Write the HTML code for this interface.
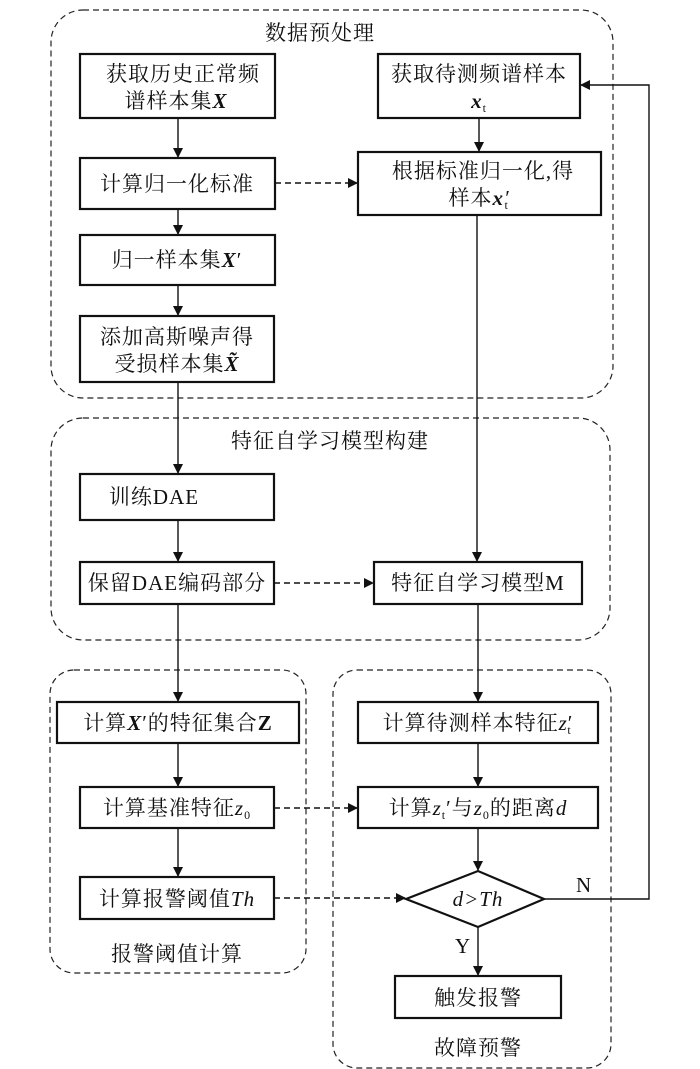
<!DOCTYPE html>
<html><head><meta charset="utf-8"><style>
html,body{margin:0;padding:0;background:#fff}
svg{display:block}
text{font-family:"Liberation Serif","Noto Serif CJK SC",serif;font-size:21px;fill:#111;letter-spacing:1px}
.b{fill:#fff;stroke:#111;stroke-width:2.2}
.g{fill:none;stroke:#222;stroke-width:1.2;stroke-dasharray:6,4}
.l{stroke:#111;stroke-width:1.4;fill:none}
.d{stroke:#111;stroke-width:1.4;fill:none;stroke-dasharray:6,4}
.i{font-style:italic;font-weight:bold}
.it{font-style:italic}
</style></head><body>
<svg width="700" height="1069" viewBox="0 0 700 1069" xmlns="http://www.w3.org/2000/svg">
<defs><marker id="a" markerWidth="10" markerHeight="10" refX="9" refY="5" orient="auto" markerUnits="userSpaceOnUse"><path d="M0,0 L10,5 L0,10 z" fill="#111"/></marker></defs>
<rect class="g" x="51" y="10" width="562" height="388" rx="32"/>
<rect class="g" x="51" y="418" width="559" height="222" rx="32"/>
<rect class="g" x="50" y="670" width="256" height="303" rx="24"/>
<rect class="g" x="333" y="670" width="278" height="398" rx="24"/>
<text x="320" y="40" text-anchor="middle">数据预处理</text>
<text x="330" y="448" text-anchor="middle">特征自学习模型构建</text>
<text x="177" y="961" text-anchor="middle">报警阈值计算</text>
<text x="478" y="1055" text-anchor="middle">故障预警</text>
<line class="l" x1="178" y1="118" x2="178" y2="157" marker-end="url(#a)"/>
<line class="l" x1="178" y1="209" x2="178" y2="234" marker-end="url(#a)"/>
<line class="l" x1="178" y1="285" x2="178" y2="315" marker-end="url(#a)"/>
<line class="l" x1="178" y1="382" x2="178" y2="473" marker-end="url(#a)"/>
<line class="l" x1="178" y1="520" x2="178" y2="561" marker-end="url(#a)"/>
<line class="l" x1="178" y1="604" x2="178" y2="701" marker-end="url(#a)"/>
<line class="l" x1="178" y1="743" x2="178" y2="786" marker-end="url(#a)"/>
<line class="l" x1="178" y1="828" x2="178" y2="876" marker-end="url(#a)"/>
<line class="l" x1="479" y1="118" x2="479" y2="151" marker-end="url(#a)"/>
<line class="l" x1="477" y1="215" x2="477" y2="561" marker-end="url(#a)"/>
<line class="l" x1="478" y1="604" x2="478" y2="701" marker-end="url(#a)"/>
<line class="l" x1="478" y1="743" x2="478" y2="786" marker-end="url(#a)"/>
<line class="l" x1="478" y1="828" x2="478" y2="870" marker-end="url(#a)"/>
<line class="l" x1="478" y1="927" x2="478" y2="975" marker-end="url(#a)"/>
<polyline class="l" points="544,899 649,899 649,85 581,85" marker-end="url(#a)"/>
<line class="d" x1="275" y1="183" x2="357" y2="183" marker-end="url(#a)"/>
<line class="d" x1="274" y1="583" x2="373" y2="583" marker-end="url(#a)"/>
<line class="d" x1="274" y1="808" x2="357" y2="808" marker-end="url(#a)"/>
<line class="d" x1="274" y1="898" x2="405" y2="898" marker-end="url(#a)"/>
<text x="576" y="892">N</text>
<text x="455" y="953">Y</text>
<rect class="b" x="80" y="54" width="195" height="64"/>
<text x="183" y="81" text-anchor="middle">获取历史正常频</text>
<text x="176" y="108" text-anchor="middle">谱样本集<tspan class="i">X</tspan></text>
<rect class="b" x="378" y="54" width="202" height="64"/>
<text x="479" y="81" text-anchor="middle">获取待测频谱样本</text>
<text x="479" y="108" text-anchor="middle"><tspan class="i">x</tspan><tspan font-size="12" dy="4">t</tspan></text>
<rect class="b" x="80" y="158" width="195" height="51"/>
<text x="177" y="191" text-anchor="middle">计算归一化标准</text>
<rect class="b" x="358" y="152" width="243" height="63"/>
<text x="483" y="178" text-anchor="middle">根据标准归一化,得</text>
<text x="479" y="205" text-anchor="middle">样本<tspan class="i">x</tspan><tspan class="it">′</tspan><tspan font-size="12" dx="-5" dy="4">t</tspan></text>
<rect class="b" x="80" y="235" width="195" height="50"/>
<text x="177" y="267" text-anchor="middle">归一样本集<tspan class="i">X</tspan>′</text>
<rect class="b" x="80" y="316" width="194" height="66"/>
<text x="177" y="344" text-anchor="middle">添加高斯噪声得</text>
<text x="177" y="371" text-anchor="middle">受损样本集<tspan class="i">X̃</tspan></text>
<rect class="b" x="80" y="474" width="194" height="46"/>
<text x="154" y="504" text-anchor="middle">训练DAE</text>
<rect class="b" x="80" y="562" width="194" height="42"/>
<text x="177" y="590" text-anchor="middle">保留DAE编码部分</text>
<rect class="b" x="374" y="562" width="208" height="42"/>
<text x="478" y="590" text-anchor="middle">特征自学习模型M</text>
<rect class="b" x="57" y="702" width="242" height="41"/>
<text x="178" y="730" text-anchor="middle">计算<tspan class="i">X</tspan>′的特征集合<tspan font-weight="bold">Z</tspan></text>
<rect class="b" x="358" y="702" width="240" height="41"/>
<text x="478" y="730" text-anchor="middle">计算待测样本特征<tspan class="it">z</tspan>′<tspan font-size="12" dx="-6" dy="4">t</tspan></text>
<rect class="b" x="80" y="787" width="194" height="41"/>
<text x="177" y="815" text-anchor="middle">计算基准特征<tspan class="it">z</tspan><tspan font-size="12" dy="4">0</tspan></text>
<rect class="b" x="358" y="787" width="240" height="41"/>
<text x="478" y="815" text-anchor="middle">计算<tspan class="it">z</tspan><tspan font-size="12" dy="4">t</tspan><tspan dy="-4">′与</tspan><tspan class="it">z</tspan><tspan font-size="12" dy="4">0</tspan><tspan dy="-4">的距离</tspan><tspan class="it">d</tspan></text>
<rect class="b" x="80" y="877" width="194" height="42"/>
<text x="177" y="906" text-anchor="middle">计算报警阈值<tspan class="it">Th</tspan></text>
<polygon class="b" points="406,899 478,871 544,899 478,927"/>
<text x="478" y="906" text-anchor="middle" class="it">d&gt;Th</text>
<rect class="b" x="395" y="976" width="166" height="42"/>
<text x="478" y="1005" text-anchor="middle">触发报警</text>
</svg>
</body></html>
